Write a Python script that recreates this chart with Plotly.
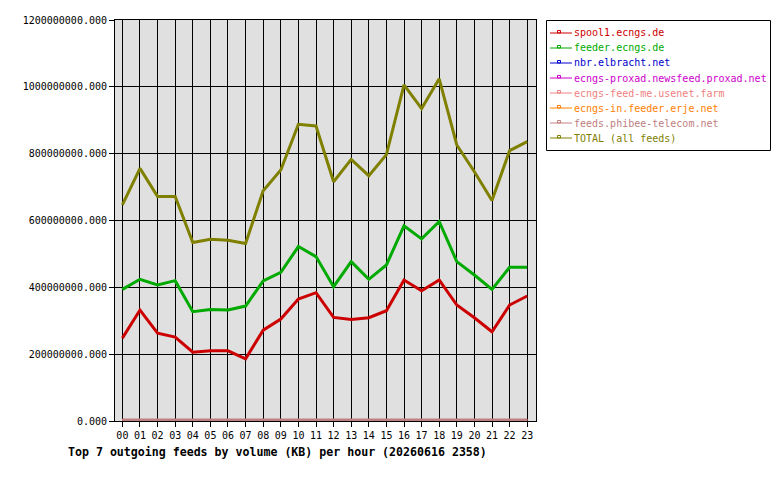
import plotly.graph_objects as go

hours = ["00","01","02","03","04","05","06","07","08","09","10","11",
         "12","13","14","15","16","17","18","19","20","21","22","23"]

spool1 = [248, 332, 263, 251, 206, 210, 210, 186, 272, 305, 365, 384,
          310, 304, 309, 330, 422, 390, 422, 347, 309, 267, 347, 374]
feeder = [394, 424, 407, 420, 327, 334, 332, 344, 419, 445, 522, 492,
          402, 477, 424, 467, 584, 545, 597, 477, 437, 394, 460, 460]
nbr = [1.0]*24
proxad = [1.2]*24
feedme = [1.5]*24
erje = [1.8]*24
phibee = [3.2, 3.0, 3.1, 2.9, 2.8, 2.8, 2.8, 2.9, 3.0, 3.1, 3.2, 3.3,
          3.1, 3.1, 3.0, 3.1, 3.3, 3.2, 3.3, 3.1, 3.0, 2.9, 3.1, 3.2]
total = [647, 756, 672, 672, 534, 544, 541, 531, 689, 751, 888, 883,
         716, 783, 734, 797, 1006, 935, 1024, 826, 746, 660, 809, 836]

MILLION = 1e6
series = [
    ("spool1.ecngs.de", spool1, "#cc0000"),
    ("feeder.ecngs.de", feeder, "#00aa00"),
    ("nbr.elbracht.net", nbr, "#0000cc"),
    ("ecngs-proxad.newsfeed.proxad.net", proxad, "#cc00cc"),
    ("ecngs-feed-me.usenet.farm", feedme, "#f08080"),
    ("ecngs-in.feeder.erje.net", erje, "#ff8000"),
    ("feeds.phibee-telecom.net", phibee, "#c08080"),
    ("TOTAL (all feeds)", total, "#808000"),
]

x = list(range(len(hours)))
fig = go.Figure()
for name, vals, color in series:
    fig.add_trace(go.Scatter(
        x=x, y=[v * MILLION for v in vals], name=name, mode="lines",
        line=dict(color=color, width=3), showlegend=False,
    ))

W, H = 780, 480
L, R, T, B = 115, 536, 20, 421
def px(p):
    return (p - L) / (R - L)
def py(p):
    return (B - p) / (B - T)

# manual legend (box, sample line + small square, coloured text)
shapes = [dict(type="rect", xref="paper", yref="paper",
               x0=px(546.5), x1=px(770.5), y0=py(20.5), y1=py(150.5),
               line=dict(color="black", width=1), fillcolor="white", layer="above")]
annotations = []
for i, (name, vals, color) in enumerate(series):
    cy = 33 + 15 * i
    shapes.append(dict(type="line", xref="paper", yref="paper",
                       x0=px(550), x1=px(572), y0=py(cy), y1=py(cy),
                       line=dict(color=color, width=1), layer="above"))
    shapes.append(dict(type="rect", xref="paper", yref="paper",
                       x0=px(557.5), x1=px(560.5), y0=py(cy), y1=py(cy - 2.5),
                       line=dict(color=color, width=1), fillcolor="rgba(0,0,0,0)",
                       layer="above"))
    annotations.append(dict(text=name, xref="paper", yref="paper",
                            x=px(572), y=py(cy), xanchor="left", yanchor="middle",
                            showarrow=False,
                            font=dict(family="DejaVu Sans Mono", size=10, color=color)))

fig.update_layout(
    width=W, height=H,
    margin=dict(l=L, r=W - R, t=T, b=H - B, pad=0, autoexpand=False),
    paper_bgcolor="white", plot_bgcolor="#e0e0e0",
    font=dict(family="DejaVu Sans Mono", size=10, color="black"),
    showlegend=False,
    shapes=shapes,
    annotations=annotations,
    title=dict(
        text="<b>Top 7 outgoing feeds by volume (KB) per hour (20260616 2358)</b>",
        x=68 / W, xanchor="left", xref="container",
        y=1 - 452 / H, yanchor="middle", yref="container",
        font=dict(family="DejaVu Sans Mono", size=11.6, color="black"),
    ),
)
fig.update_xaxes(
    range=[-0.42, 23.5], tickmode="array", tickvals=x, ticktext=hours,
    showgrid=True, gridcolor="black", gridwidth=1,
    showline=True, linecolor="black", linewidth=1, mirror=True,
    ticks="outside", ticklen=5, tickcolor="black", zeroline=False,
)
fig.update_yaxes(
    range=[0, 1.2e9], tickmode="array",
    tickvals=[0, 2e8, 4e8, 6e8, 8e8, 1e9, 1.2e9],
    ticktext=["0.000", "200000000.000", "400000000.000", "600000000.000",
              "800000000.000", "1000000000.000", "1200000000.000"],
    showgrid=True, gridcolor="black", gridwidth=1,
    showline=True, linecolor="black", linewidth=1, mirror=True,
    ticks="outside", ticklen=5, tickcolor="black", zeroline=False,
)
fig.write_html("out.html")
